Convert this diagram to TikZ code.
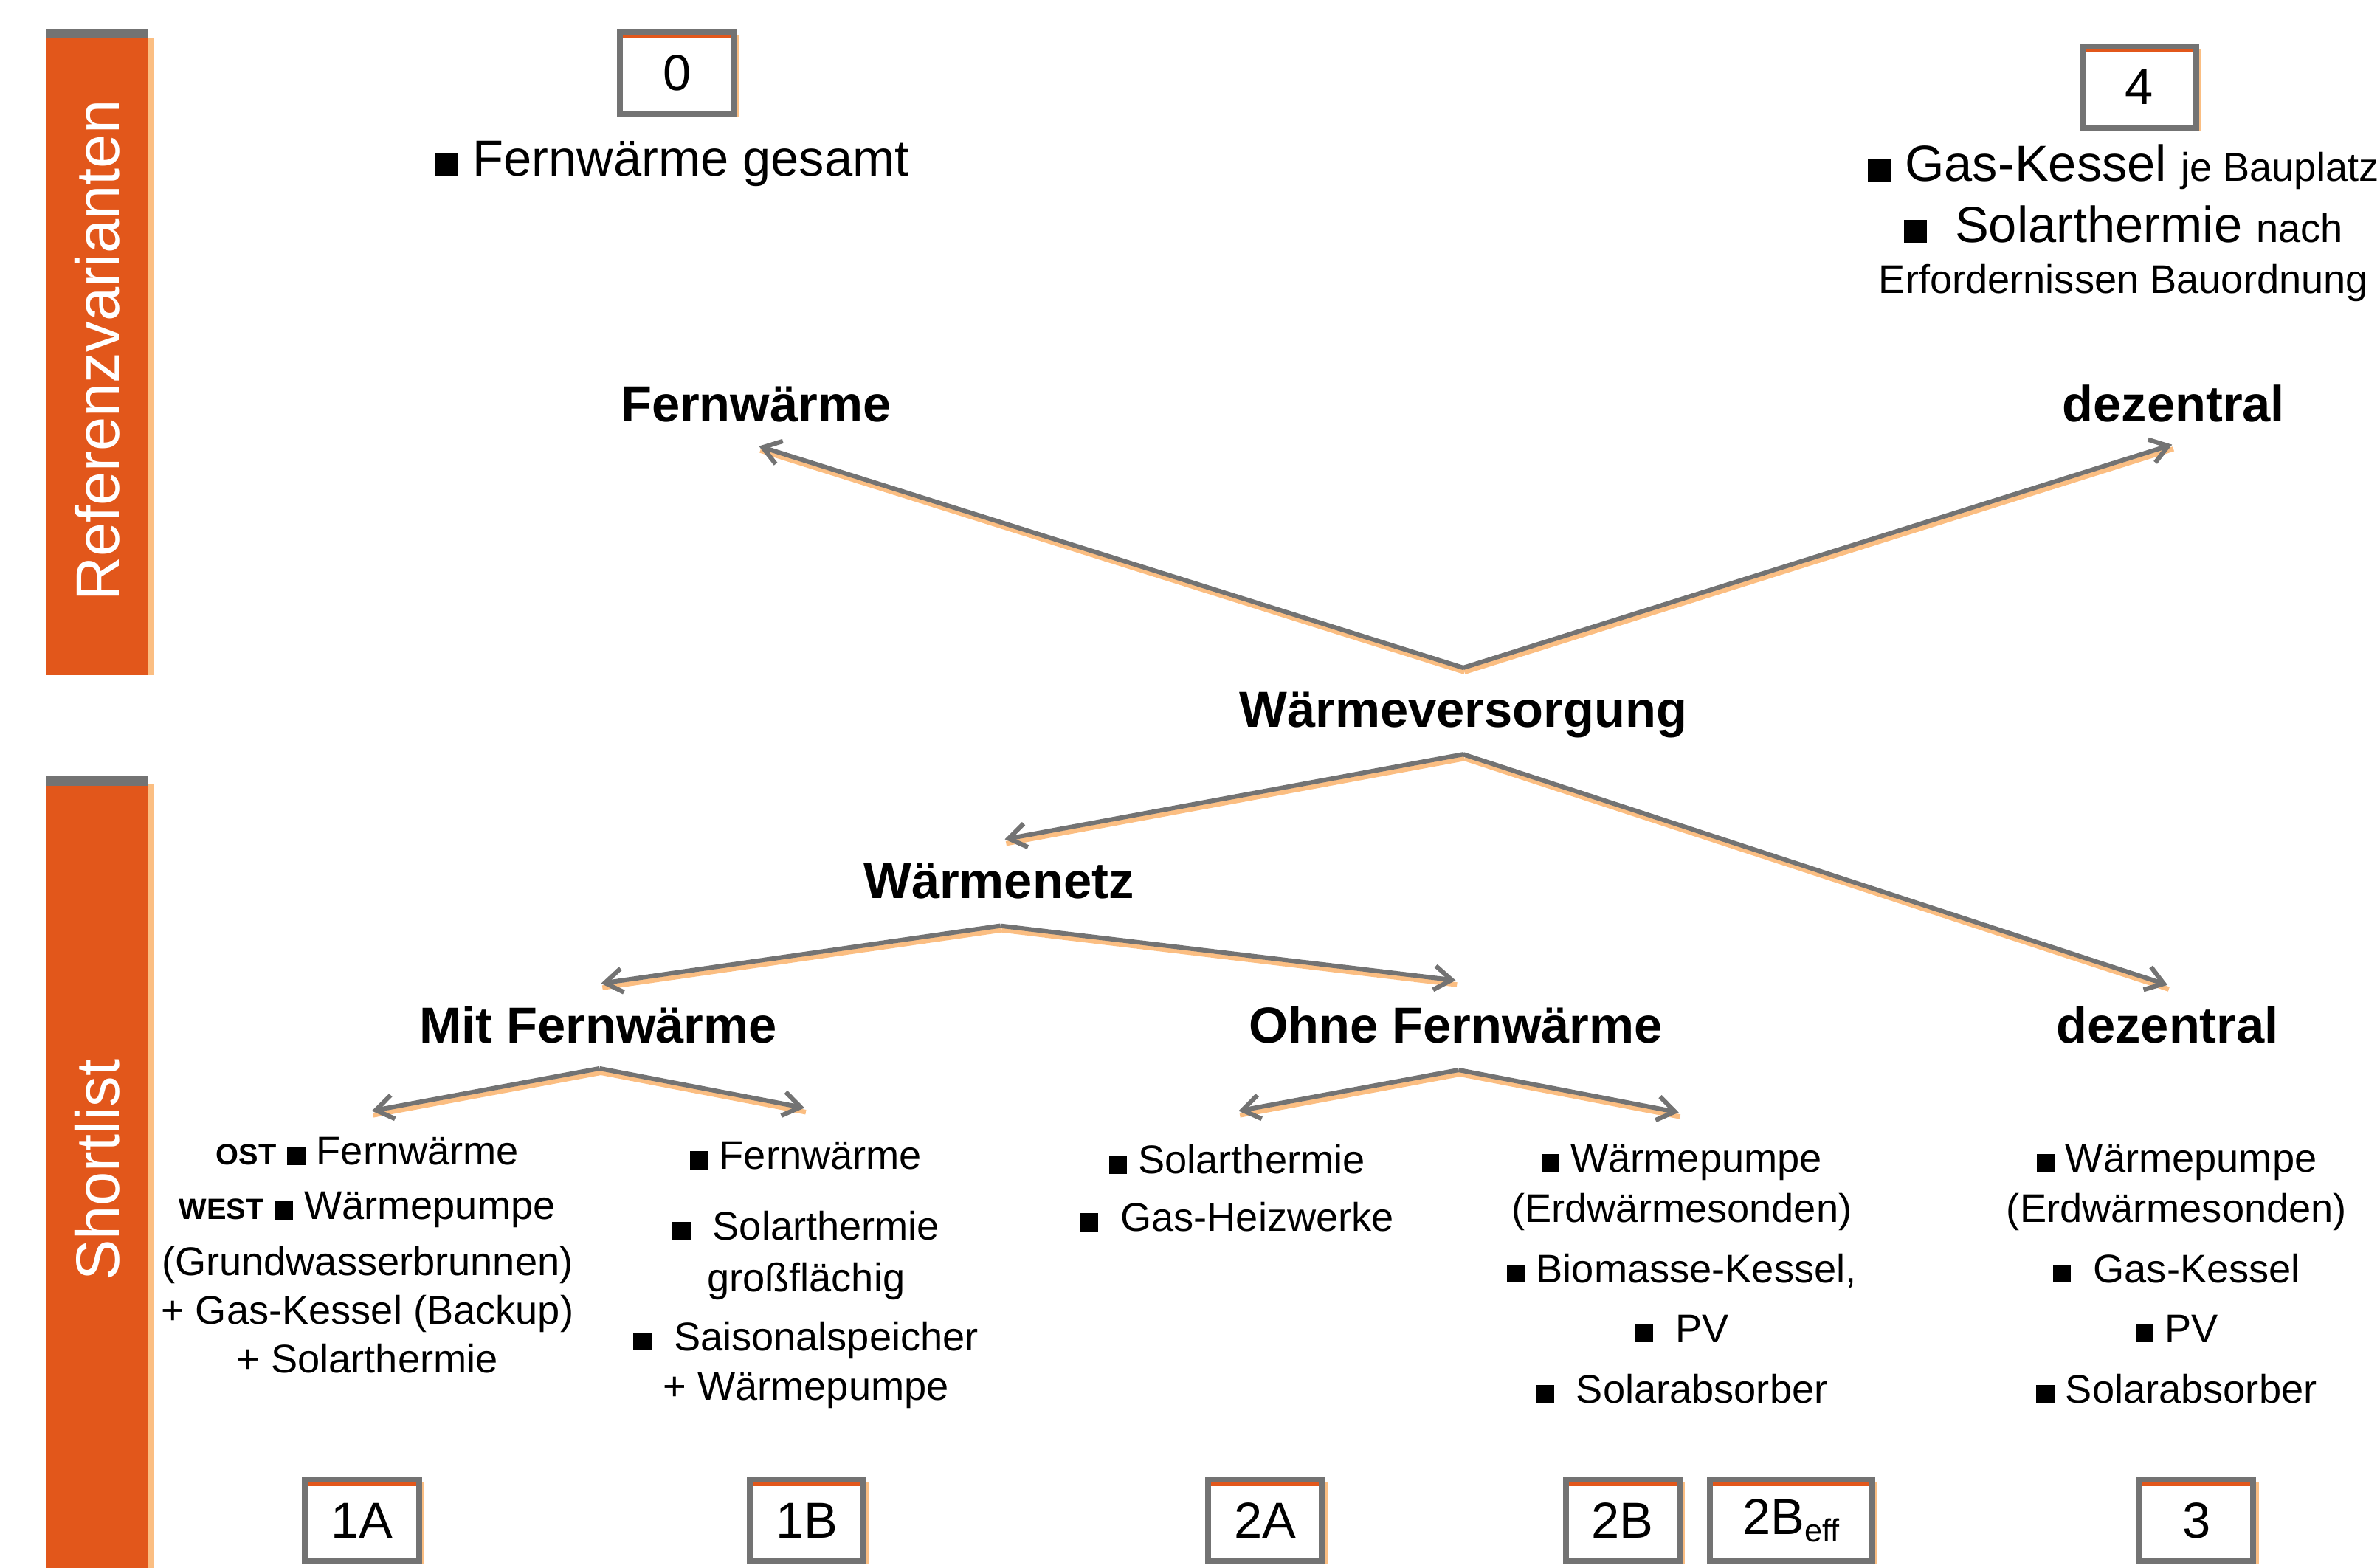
\documentclass[tikz,border=0pt]{standalone}
\usepackage{fontspec}
\setmainfont{Liberation Sans}
\usepackage{xcolor}
\usetikzlibrary{arrows.meta}
\usetikzlibrary{calc}
\usetikzlibrary{shadows}

\definecolor{barorange}{RGB}{226,87,27}
\definecolor{linegray}{RGB}{115,115,115}
\definecolor{peach}{RGB}{251,190,130}

\newcommand{\sq}{\rule{0.45em}{0.45em}}
\newcommand{\listfont}{\fontsize{15}{19.5}\selectfont}
\newcommand{\bigfont}{\fontsize{19}{23}\selectfont}
\newcommand{\headfont}{\fontsize{19}{23}\selectfont\bfseries}
\newcommand{\barfont}{\fontsize{23}{27}\selectfont}
\newcommand{\tagfont}{\fontsize{11}{13}\selectfont\bfseries}

\tikzset{
  head/.style={font=\headfont, inner sep=0pt, anchor=base},
  entries/.style={font=\listfont, align=center, inner sep=0pt, anchor=north},
  numbox/.style={draw=linegray, line width=2.2pt, fill=white, minimum width=1.50cm, minimum height=1.08cm, inner sep=0pt, font=\bigfont,
    path picture={\draw[barorange, line width=4.6pt] (path picture bounding box.north west) -- (path picture bounding box.north east);},
    drop shadow={shadow xshift=2pt, shadow yshift=-1pt, fill=peach, opacity=1}},
  branch/.style={linegray, line width=1.7pt, -{Straight Barb[length=6.5pt,width=9pt]},
    preaction={draw=peach, line width=1.8pt, -, transform canvas={shift={(0.5pt,-1.6pt)}}}},
  bartext/.style={rotate=90, text=white, font=\barfont, inner sep=0pt}
}

\begin{document}
\begin{tikzpicture}[x=0.02cm, y=-0.02cm]
\useasboundingbox (0,0) rectangle (1568,1033);

\fill[peach] (97,25) rectangle (101,445);
\fill[barorange] (30,19) rectangle (97,445);
\fill[linegray] (30,19) rectangle (97,25);
\node[bartext] (refbar) at (64,231) {Referenzvarianten};
\fill[peach] (97,517) rectangle (101,1033);
\fill[barorange] (30,511) rectangle (97,1033);
\fill[linegray] (30,511) rectangle (97,518);
\node[bartext] (shortbar) at (64,771) {Shortlist};

\node[numbox] (v0) at (446,48) {0};
\node[numbox] (v4) at (1409.5,57.5) {4};
\node[numbox] (v1A) at (238.5,1002) {1A};
\node[numbox] (v1B) at (531.5,1002) {1B};
\node[numbox] (v2A) at (833.5,1002) {2A};
\node[numbox] (v2B) at (1069,1002) {2B};
\node[numbox, minimum width=2.14cm] (v2Beff) at (1180,1002) {2B\raisebox{-0.15em}{\fontsize{12}{12}\selectfont eff}};
\node[numbox] (v3) at (1447,1002) {3};

\node[font=\bigfont, inner sep=0pt, anchor=base] (gesamt) at (443,116) {\sq\ Fernwärme gesamt};
\node[font=\bigfont, align=center, inner sep=0pt, anchor=north] (dezref) at (1399,95) {\sq\ Gas-Kessel {\listfont je Bauplatz}\\ \sq\ \ Solarthermie {\listfont nach}\\[-4pt] {\listfont Erfordernissen Bauordnung}};

\node[head] (fwtop) at (498,278) {Fernwärme};
\node[head] (deztop) at (1432,278) {dezentral};
\node[head] (wv) at (964,479) {Wärmeversorgung};
\node[head] (wn) at (658,592) {Wärmenetz};
\node[head] (mitfw) at (394,687) {Mit Fernwärme};
\node[head] (ohnefw) at (959,687) {Ohne Fernwärme};
\node[head] (dezlow) at (1428,687) {dezentral};

\node[entries] (l1A) at (242,749) {{\tagfont OST} \sq\ Fernwärme\\[1pt] {\tagfont WEST} \sq\ Wärmepumpe\\[1.5pt] (Grundwasserbrunnen)\\[-1.3pt] + Gas-Kessel (Backup)\\[-1.3pt] + Solarthermie};
\node[entries] (l1B) at (531,752) {\sq\ Fernwärme\\[7pt] \sq\ \ Solarthermie\\ großflächig\\[2.5pt] \sq\ \ Saisonalspeicher\\[-1pt] + Wärmepumpe};
\node[entries] (l2A) at (815,754) {\sq\ Solarthermie\\[2pt] \sq\ \ Gas-Heizwerke};
\node[entries] (l2B) at (1108,754) {\sq\ Wärmepumpe\\[-0.7pt] (Erdwärmesonden)\\[3pt] \sq\ Biomasse-Kessel,\\[3pt] \sq\ \ PV\\[3.3pt] \sq\ \ Solarabsorber};
\node[entries] (l3) at (1434,754) {\sq\ Wärmepumpe\\[-0.7pt] (Erdwärmesonden)\\[3pt] \sq\ \ Gas-Kessel\\[3pt] \sq\ PV\\[3.3pt] \sq\ Solarabsorber};

\coordinate (wvup) at ($(wv.base)+(0,-39)$);
\coordinate (wvdown) at ($(wv.base)+(0,18)$);
\coordinate (wndown) at ($(wn.base)+(1,18)$);
\coordinate (mitdown) at ($(mitfw.base)+(1,17)$);
\coordinate (ohnedown) at ($(ohnefw.base)+(2,18)$);
\coordinate (fwtip) at ($(fwtop.base)+(2,16)$);
\coordinate (deztip) at ($(deztop.base)+(-1,15)$);
\coordinate (wntip) at ($(wn.base)+(4,-39)$);
\coordinate (dezlowtip) at ($(dezlow.base)+(0,-38)$);
\coordinate (mittip) at ($(mitfw.base)+(2,-39)$);
\coordinate (ohnetip) at ($(ohnefw.base)+(0,-41)$);
\coordinate (l1Atip) at ($(l1A.north)+(3,-17)$);
\coordinate (l1Btip) at ($(l1B.north)+(-1,-22)$);
\coordinate (l2Atip) at ($(l2A.north)+(1,-22)$);
\coordinate (l2Btip) at ($(l2B.north)+(-2,-21)$);

\draw[branch] (wvup) -- (fwtip);
\draw[branch] (wvup) -- (deztip);
\draw[branch] (wvdown) -- (wntip);
\draw[branch] (wvdown) -- (dezlowtip);
\draw[branch] (wndown) -- (mittip);
\draw[branch] (wndown) -- (ohnetip);
\draw[branch] (mitdown) -- (l1Atip);
\draw[branch] (mitdown) -- (l1Btip);
\draw[branch] (ohnedown) -- (l2Atip);
\draw[branch] (ohnedown) -- (l2Btip);
\end{tikzpicture}
\end{document}
